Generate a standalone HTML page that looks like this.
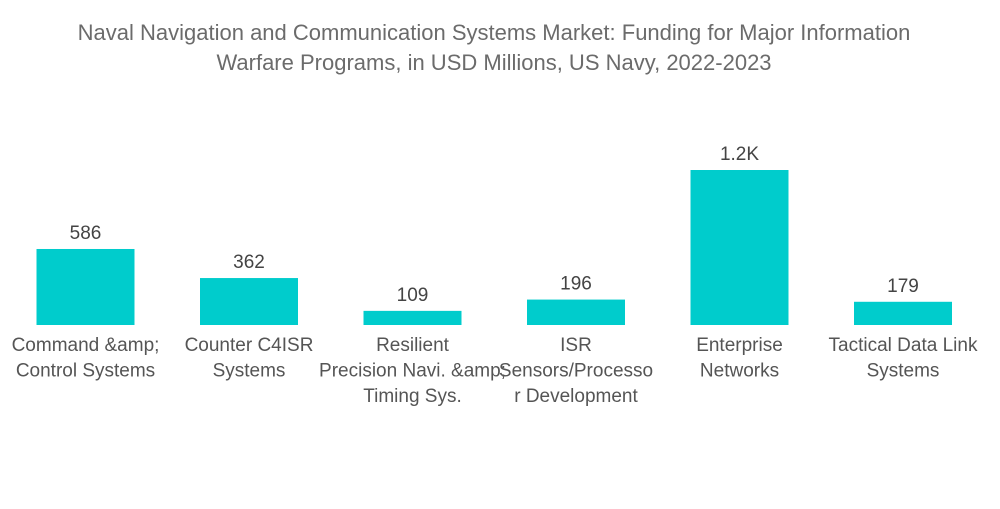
<!DOCTYPE html>
<html><head><meta charset="utf-8"><style>
body{margin:0;background:#fff;font-family:"Liberation Sans",sans-serif}
svg text{font-family:"Liberation Sans",sans-serif}
</style></head><body>
<svg width="1000" height="504" id="c">
<text x="494" y="40" text-anchor="middle" font-size="22" fill="#6b6b6b">Naval Navigation and Communication Systems Market: Funding for Major Information</text>
<text x="494" y="70" text-anchor="middle" font-size="22" fill="#6b6b6b">Warfare Programs, in USD Millions, US Navy, 2022-2023</text>
</svg>
<script>
const categories=[["Command &amp;","Control Systems"],["Counter C4ISR","Systems"],["Resilient","Precision Navi. &amp;","Timing Sys."],["ISR","Sensors/Processo","r Development"],["Enterprise","Networks"],["Tactical Data Link","Systems"]];
const values=[586,362,109,196,1195,179];
const valueLabels=["586","362","109","196","1.2K","179"];
const svg=document.getElementById('c');
const NS='http://www.w3.org/2000/svg';
const base=325, scale=155/1195;
function y(v){return base-v*scale;}
function xc(i){return 85.5+i*163.5;}
values.forEach((v,i)=>{
 const r=document.createElementNS(NS,'rect');
 r.setAttribute('x',xc(i)-49);r.setAttribute('y',y(v));r.setAttribute('width',98);r.setAttribute('height',base-y(v));r.setAttribute('fill','#00cccc');
 
 
 svg.appendChild(r);
 const t=document.createElementNS(NS,'text');
 t.setAttribute('x',xc(i));t.setAttribute('y',y(v)-10);t.setAttribute('text-anchor','middle');t.setAttribute('font-size','19');t.setAttribute('fill','#444');
 t.textContent=valueLabels[i];
 
 
 svg.appendChild(t);
 categories[i].forEach((line,j)=>{
  const l=document.createElementNS(NS,'text');
  l.setAttribute('x',xc(i));l.setAttribute('y',351+j*25.5);l.setAttribute('text-anchor','middle');l.setAttribute('font-size','19');l.setAttribute('fill','#555');
  l.textContent=line;
  
  
  svg.appendChild(l);
 });
});
</script>
</body></html>
